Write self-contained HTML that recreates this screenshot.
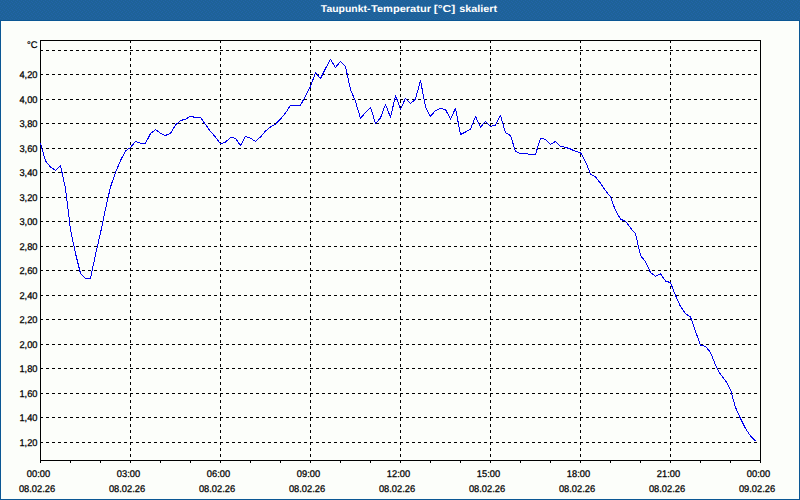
<!DOCTYPE html>
<html><head><meta charset="utf-8"><title>Taupunkt-Temperatur</title>
<style>html,body{margin:0;padding:0;background:#fff;width:800px;height:500px;overflow:hidden}</style></head>
<body>
<svg width="800" height="500" viewBox="0 0 800 500" style="display:block;position:absolute;left:0;top:0">
<defs><pattern id="d" width="4" height="4" patternUnits="userSpaceOnUse"><rect width="4" height="4" fill="#1e6298"/><rect x="1" y="0" width="1" height="1" fill="#2264a8"/><rect x="3" y="1" width="1" height="1" fill="#2264a8"/><rect x="0" y="2" width="1" height="1" fill="#2264a8"/><rect x="2" y="3" width="1" height="1" fill="#2264a8"/></pattern></defs>
<rect x="0" y="0" width="800" height="500" fill="#0b5794"/>
<rect x="0" y="0" width="800" height="20" fill="url(#d)"/>
<rect x="1" y="21" width="798" height="478" fill="#fcfefa"/>
<g stroke="#000" stroke-width="1" stroke-dasharray="3 3" shape-rendering="crispEdges" fill="none">
<line x1="40" y1="50.5" x2="760" y2="50.5"/>
<line x1="40" y1="74.5" x2="760" y2="74.5"/>
<line x1="40" y1="99.5" x2="760" y2="99.5"/>
<line x1="40" y1="123.5" x2="760" y2="123.5"/>
<line x1="40" y1="148.5" x2="760" y2="148.5"/>
<line x1="40" y1="172.5" x2="760" y2="172.5"/>
<line x1="40" y1="197.5" x2="760" y2="197.5"/>
<line x1="40" y1="221.5" x2="760" y2="221.5"/>
<line x1="40" y1="246.5" x2="760" y2="246.5"/>
<line x1="40" y1="270.5" x2="760" y2="270.5"/>
<line x1="40" y1="295.5" x2="760" y2="295.5"/>
<line x1="40" y1="319.5" x2="760" y2="319.5"/>
<line x1="40" y1="344.5" x2="760" y2="344.5"/>
<line x1="40" y1="368.5" x2="760" y2="368.5"/>
<line x1="40" y1="393.5" x2="760" y2="393.5"/>
<line x1="40" y1="417.5" x2="760" y2="417.5"/>
<line x1="40" y1="442.5" x2="760" y2="442.5"/>
<line x1="130.5" y1="40" x2="130.5" y2="460"/>
<line x1="220.5" y1="40" x2="220.5" y2="460"/>
<line x1="310.5" y1="40" x2="310.5" y2="460"/>
<line x1="400.5" y1="40" x2="400.5" y2="460"/>
<line x1="490.5" y1="40" x2="490.5" y2="460"/>
<line x1="580.5" y1="40" x2="580.5" y2="460"/>
<line x1="670.5" y1="40" x2="670.5" y2="460"/>
</g>
<g stroke="#000" stroke-width="1" shape-rendering="crispEdges" fill="none">
<rect x="40.5" y="40.5" width="720" height="420"/>
<line x1="40.5" y1="460" x2="40.5" y2="463"/>
<line x1="70.5" y1="460" x2="70.5" y2="463"/>
<line x1="100.5" y1="460" x2="100.5" y2="463"/>
<line x1="130.5" y1="460" x2="130.5" y2="463"/>
<line x1="160.5" y1="460" x2="160.5" y2="463"/>
<line x1="190.5" y1="460" x2="190.5" y2="463"/>
<line x1="220.5" y1="460" x2="220.5" y2="463"/>
<line x1="250.5" y1="460" x2="250.5" y2="463"/>
<line x1="280.5" y1="460" x2="280.5" y2="463"/>
<line x1="310.5" y1="460" x2="310.5" y2="463"/>
<line x1="340.5" y1="460" x2="340.5" y2="463"/>
<line x1="370.5" y1="460" x2="370.5" y2="463"/>
<line x1="400.5" y1="460" x2="400.5" y2="463"/>
<line x1="430.5" y1="460" x2="430.5" y2="463"/>
<line x1="460.5" y1="460" x2="460.5" y2="463"/>
<line x1="490.5" y1="460" x2="490.5" y2="463"/>
<line x1="520.5" y1="460" x2="520.5" y2="463"/>
<line x1="550.5" y1="460" x2="550.5" y2="463"/>
<line x1="580.5" y1="460" x2="580.5" y2="463"/>
<line x1="610.5" y1="460" x2="610.5" y2="463"/>
<line x1="640.5" y1="460" x2="640.5" y2="463"/>
<line x1="670.5" y1="460" x2="670.5" y2="463"/>
<line x1="700.5" y1="460" x2="700.5" y2="463"/>
<line x1="730.5" y1="460" x2="730.5" y2="463"/>
<line x1="760.5" y1="460" x2="760.5" y2="463"/>
</g>
<polyline points="40.5,143.5 45.5,161 50.5,167 55.5,170.3 60.5,165.5 65.5,188.5 70.5,229.5 75.5,253.5 80.5,273.5 85.5,278.5 90.5,278.5 95.5,254.5 100.5,233 105.5,209 110.5,187 115.5,172.4 120.5,160.5 125.5,151 130.5,147.5 135.5,141.3 140.5,143.3 145.5,143.3 150.5,133.7 155.5,129.5 160.5,133.3 165.5,135.5 170.5,133.3 175.5,125 180.5,120.5 185.5,119.3 190.5,116.3 195.5,117.5 200.5,117.5 205.5,124.5 210.5,131.5 215.5,137 220.5,144 225.5,142 230.5,137.5 235.5,138.3 240.5,145.5 245.5,136.5 250.5,138.3 255.5,141.3 260.5,137 265.5,131 270.5,127 275.5,124.3 280.5,119 285.5,113 290.5,105.3 295.5,105.3 300.5,105.3 305.5,96 310.5,86.5 315.5,72.5 320.5,78.5 325.5,68.5 330.5,59.3 335.5,67.5 340.5,61.3 345.5,66.5 350.5,89.5 355.5,101.5 360.5,118.5 365.5,112.5 370.5,107.2 375.5,123.5 380.5,118 385.5,104.3 390.5,117.5 395.5,95.5 400.5,109 405.5,98.3 410.5,103.7 415.5,99 420.5,80.5 425.5,107 430.5,116.5 435.5,110.5 440.5,108.4 445.5,109.6 450.5,119 455.5,108.4 460.5,134.5 465.5,132 470.5,129 475.5,116.5 480.5,127 485.5,121.5 490.5,126.5 495.5,125 500.5,115.5 505.5,132.7 510.5,135.5 515.5,151.5 520.5,153.5 525.5,153.5 530.5,154.5 535.5,154.3 540.5,138.5 545.5,139.3 550.5,144.3 555.5,141.5 560.5,146.5 565.5,147.3 570.5,149 575.5,151.4 580.5,152.7 585.5,161.5 590.5,174 595.5,177 600.5,183.2 605.5,190.7 610.5,196.7 615.5,210.5 620.5,219.2 625.5,221.2 630.5,228 635.5,233.7 640.5,255.5 645.5,261.7 650.5,272.5 655.5,276.3 660.5,273.7 665.5,281 670.5,282.7 675.5,295.5 680.5,306.5 685.5,313.5 690.5,317 695.5,331.3 700.5,345 705.5,346.3 710.5,352.5 715.5,365 720.5,374.5 725.5,380.5 730.5,389.5 735.5,407.5 740.5,418.5 745.5,428.5 750.5,436 755.5,441" fill="none" stroke="#0000f0" stroke-width="1" shape-rendering="crispEdges" stroke-linejoin="round"/>
<g font-family="Liberation Sans, sans-serif" font-size="9.7px" fill="#000" stroke="#000" stroke-width="0.25" text-rendering="geometricPrecision">
<g font-weight="bold" font-size="10px" fill="#fff" stroke="none"><text x="320.8" y="12" textLength="49.6" lengthAdjust="spacingAndGlyphs">Taupunkt-</text><text x="371" y="12" textLength="60" lengthAdjust="spacingAndGlyphs">Temperatur</text><text x="433.8" y="12" textLength="21.5" lengthAdjust="spacingAndGlyphs">[°C]</text><text x="459.2" y="12" textLength="38" lengthAdjust="spacingAndGlyphs">skaliert</text></g>
<text transform="translate(37.5,48) scale(0.96,1)" text-anchor="end" id="unit">°C</text>
<text transform="translate(37.5,78) scale(0.96,1)" text-anchor="end">4,20</text>
<text transform="translate(37.5,103) scale(0.96,1)" text-anchor="end">4,00</text>
<text transform="translate(37.5,127) scale(0.96,1)" text-anchor="end">3,80</text>
<text transform="translate(37.5,152) scale(0.96,1)" text-anchor="end">3,60</text>
<text transform="translate(37.5,176) scale(0.96,1)" text-anchor="end">3,40</text>
<text transform="translate(37.5,201) scale(0.96,1)" text-anchor="end">3,20</text>
<text transform="translate(37.5,225) scale(0.96,1)" text-anchor="end">3,00</text>
<text transform="translate(37.5,250) scale(0.96,1)" text-anchor="end">2,80</text>
<text transform="translate(37.5,274) scale(0.96,1)" text-anchor="end">2,60</text>
<text transform="translate(37.5,299) scale(0.96,1)" text-anchor="end">2,40</text>
<text transform="translate(37.5,323) scale(0.96,1)" text-anchor="end">2,20</text>
<text transform="translate(37.5,348) scale(0.96,1)" text-anchor="end">2,00</text>
<text transform="translate(37.5,372) scale(0.96,1)" text-anchor="end">1,80</text>
<text transform="translate(37.5,397) scale(0.96,1)" text-anchor="end">1,60</text>
<text transform="translate(37.5,421) scale(0.96,1)" text-anchor="end">1,40</text>
<text transform="translate(37.5,446) scale(0.96,1)" text-anchor="end">1,20</text>
<text transform="translate(38.5,477) scale(0.96,1)" text-anchor="middle">00:00</text>
<text transform="translate(37,492) scale(0.96,1)" text-anchor="middle">08.02.26</text>
<text transform="translate(128.5,477) scale(0.96,1)" text-anchor="middle">03:00</text>
<text transform="translate(127,492) scale(0.96,1)" text-anchor="middle">08.02.26</text>
<text transform="translate(218.5,477) scale(0.96,1)" text-anchor="middle">06:00</text>
<text transform="translate(217,492) scale(0.96,1)" text-anchor="middle">08.02.26</text>
<text transform="translate(308.5,477) scale(0.96,1)" text-anchor="middle">09:00</text>
<text transform="translate(307,492) scale(0.96,1)" text-anchor="middle">08.02.26</text>
<text transform="translate(398.5,477) scale(0.96,1)" text-anchor="middle">12:00</text>
<text transform="translate(397,492) scale(0.96,1)" text-anchor="middle">08.02.26</text>
<text transform="translate(488.5,477) scale(0.96,1)" text-anchor="middle">15:00</text>
<text transform="translate(487,492) scale(0.96,1)" text-anchor="middle">08.02.26</text>
<text transform="translate(578.5,477) scale(0.96,1)" text-anchor="middle">18:00</text>
<text transform="translate(577,492) scale(0.96,1)" text-anchor="middle">08.02.26</text>
<text transform="translate(668.5,477) scale(0.96,1)" text-anchor="middle">21:00</text>
<text transform="translate(667,492) scale(0.96,1)" text-anchor="middle">08.02.26</text>
<text transform="translate(758.5,477) scale(0.96,1)" text-anchor="middle">00:00</text>
<text transform="translate(757,492) scale(0.96,1)" text-anchor="middle">09.02.26</text>
</g>
</svg>
</body></html>
